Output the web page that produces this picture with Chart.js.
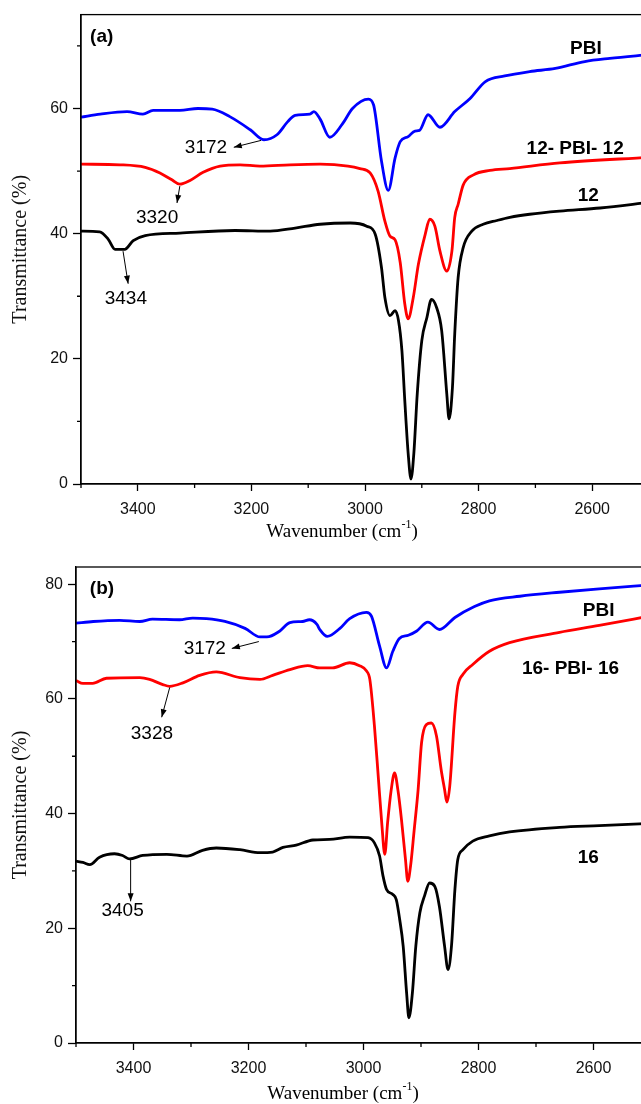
<!DOCTYPE html>
<html>
<head>
<meta charset="utf-8">
<script src="https://cdn.jsdelivr.net/npm/chart.js@4.4.1/dist/chart.umd.min.js"></script>
<style>
  html, body { margin: 0; padding: 0; background: #fff; overflow: hidden; }
  #wrap { width: 641px; height: 1104px; overflow: hidden; }
  canvas { display: block; }
</style>
</head>
<body>
<div id="wrap">
  <canvas id="chartA" width="680" height="550"></canvas>
  <canvas id="chartB" width="680" height="554"></canvas>
</div>
<script>
// ---- panel (a) ----
const wnA_PBI = [3500, 3466, 3419, 3391, 3373, 3326, 3294, 3269, 3238, 3202, 3178, 3155, 3136, 3123, 3097, 3090, 3079, 3062, 3040, 3022, 2994, 2985, 2971, 2959, 2947, 2938, 2924, 2912, 2904, 2889, 2868, 2842, 2815, 2788, 2754, 2710, 2665, 2613, 2569, 2500];
const tA_PBI  = [58.6, 59.1, 59.5, 59.1, 59.7, 59.7, 60.0, 59.9, 58.7, 56.6, 55.0, 55.8, 57.9, 58.9, 59.1, 59.5, 58.3, 55.4, 57.5, 60.0, 61.5, 60.6, 51.6, 46.9, 52.1, 54.7, 55.5, 56.4, 56.5, 59.0, 57.0, 59.5, 61.6, 64.3, 65.2, 65.9, 66.4, 67.5, 68.0, 68.6];

const wnA_12PBI = [3500, 3431, 3387, 3361, 3340, 3326, 3308, 3285, 3255, 3220, 3185, 3132, 3079, 3030, 3009, 2991, 2977, 2965, 2956, 2947, 2938, 2930, 2924, 2915, 2906, 2894, 2886, 2877, 2868, 2856, 2847, 2842, 2836, 2827, 2809, 2780, 2745, 2657, 2500];
const tA_12PBI  = [51.1, 51.0, 50.6, 49.7, 48.6, 47.9, 48.5, 49.8, 50.8, 51.0, 50.8, 51.0, 51.1, 50.8, 50.4, 49.7, 46.8, 42.0, 39.6, 39.0, 35.4, 28.8, 26.4, 29.8, 35.1, 39.9, 42.3, 41.2, 37.2, 34.0, 37.2, 42.6, 44.7, 47.8, 49.4, 50.1, 50.4, 51.3, 52.2];

const wnA_12 = [3500, 3467, 3452, 3440, 3423, 3408, 3387, 3326, 3229, 3167, 3123, 3079, 3026, 2997, 2982, 2971, 2965, 2956, 2947, 2941, 2935, 2930, 2924, 2919, 2914, 2908, 2900, 2891, 2883, 2874, 2865, 2856, 2852, 2846, 2842, 2836, 2827, 2812, 2792, 2768, 2745, 2710, 2657, 2586, 2500];
const tA_12  = [40.4, 40.3, 39.1, 37.5, 37.5, 38.9, 39.7, 40.1, 40.5, 40.4, 40.9, 41.5, 41.7, 41.2, 39.9, 34.6, 29.8, 26.9, 27.7, 26.1, 21.3, 13.4, 4.9, 0.8, 4.9, 14.4, 22.9, 26.6, 29.5, 28.2, 24.5, 14.4, 10.4, 15.5, 24.0, 33.0, 37.8, 40.4, 41.5, 42.1, 42.6, 43.1, 43.6, 44.1, 45.0];

// ---- panel (b) ----
const wnB_PBI = [3500, 3470, 3424, 3389, 3367, 3320, 3297, 3273, 3241, 3206, 3180, 3168, 3146, 3128, 3106, 3094, 3081, 3076, 3063, 3041, 3024, 2995, 2986, 2972, 2960, 2949, 2938, 2922, 2908, 2888, 2868, 2841, 2807, 2781, 2728, 2659, 2590, 2500];
const tB_PBI  = [73.2, 73.5, 73.7, 73.5, 73.9, 73.8, 74.1, 74.0, 73.5, 72.3, 70.8, 70.8, 71.8, 73.3, 73.5, 73.8, 73.0, 72.1, 70.9, 72.3, 74.0, 75.1, 74.4, 69.2, 65.4, 68.3, 70.5, 71.1, 71.8, 73.4, 72.1, 74.2, 76.1, 77.1, 77.9, 78.6, 79.2, 79.9];

const wnB_16PBI = [3500, 3488, 3471, 3447, 3389, 3372, 3349, 3337, 3314, 3285, 3256, 3215, 3180, 3158, 3128, 3097, 3076, 3054, 3024, 3007, 2995, 2989, 2981, 2974, 2968, 2963, 2958, 2952, 2946, 2940, 2934, 2927, 2923, 2918, 2912, 2905, 2899, 2891, 2882, 2873, 2865, 2859, 2855, 2850, 2841, 2836, 2827, 2810, 2781, 2746, 2659, 2590, 2500];
const tB_16PBI  = [63.2, 62.7, 62.7, 63.6, 63.7, 63.4, 62.5, 62.2, 62.8, 64.1, 64.7, 63.7, 63.4, 64.1, 65.1, 65.8, 65.4, 65.4, 66.3, 65.8, 64.9, 63.4, 55.3, 46.0, 38.0, 32.9, 38.5, 44.0, 47.1, 44.0, 39.0, 32.0, 28.2, 31.0, 37.0, 44.2, 52.4, 55.5, 55.8, 53.5, 47.7, 44.2, 42.0, 44.8, 57.6, 62.2, 64.3, 66.0, 68.3, 69.8, 71.6, 72.8, 74.5];

const wnB_16 = [3500, 3488, 3476, 3459, 3433, 3419, 3407, 3384, 3342, 3307, 3280, 3256, 3215, 3180, 3158, 3140, 3117, 3088, 3059, 3024, 2992, 2981, 2972, 2966, 2960, 2949, 2943, 2937, 2931, 2925, 2921, 2915, 2909, 2902, 2894, 2885, 2876, 2868, 2859, 2853, 2847, 2841, 2836, 2827, 2810, 2781, 2746, 2659, 2590, 2500];
const tB_16  = [31.7, 31.5, 31.1, 32.4, 33.0, 32.7, 32.1, 32.7, 32.9, 32.6, 33.6, 34.0, 33.7, 33.2, 33.3, 34.1, 34.5, 35.4, 35.5, 35.9, 35.8, 34.9, 32.6, 29.1, 26.8, 25.9, 25.0, 21.5, 16.9, 8.7, 4.4, 8.7, 16.9, 22.7, 25.6, 27.9, 27.3, 23.8, 16.9, 12.8, 16.9, 26.8, 32.0, 33.7, 35.2, 36.1, 36.8, 37.6, 37.9, 38.3];

// ticks
const xMajor = [3400, 3200, 3000, 2800, 2600];
const xMinor = [3500, 3300, 3100, 2900, 2700, 2500];
const yMajorA = [0, 20, 40, 60];
const yMinorA = [10, 30, 50, 70];
const yMajorB = [0, 20, 40, 60, 80];
const yMinorB = [10, 30, 50, 70];

// labels placed in data units: [text, wavenumber, transmittance, bold, align]
const notesA = [
  ['(a)', 3484, 71.4, true, 'left'],
  ['PBI', 2611, 69.5, true, 'center'],
  ['12- PBI- 12', 2630, 53.6, true, 'center'],
  ['12', 2607, 46.0, true, 'center'],
  ['3172', 3280, 53.8, false, 'center'],
  ['3320', 3366, 42.6, false, 'center'],
  ['3434', 3421, 29.6, false, 'center']
];
const arrowsA = [
  [3183, 54.9, 3231, 53.8],
  [3326, 47.6, 3331, 44.9],
  [3426, 37.2, 3417, 32.0]
];
const notesB = [
  ['(b)', 3476, 79.2, true, 'left'],
  ['PBI', 2591, 75.4, true, 'center'],
  ['16- PBI- 16', 2640, 65.3, true, 'center'],
  ['16', 2609, 32.3, true, 'center'],
  ['3172', 3276, 68.8, false, 'center'],
  ['3328', 3368, 54.0, false, 'center'],
  ['3405', 3419, 23.1, false, 'center']
];
const arrowsB = [
  [3182, 70.0, 3229, 68.8],
  [3337, 62.0, 3351, 56.8],
  [3405, 32.0, 3405, 24.7]
];

const pts = (xs, ys) => xs.map((x, i) => ({ x: x, y: ys[i] }));

const frame = {
  id: 'frame',
  afterDraw(chart, args, opts) {
    const { ctx, chartArea: a } = chart;
    const x = chart.scales.x, y = chart.scales.y;
    ctx.save();
    ctx.strokeStyle = '#000';
    ctx.lineWidth = 1.3;
    ctx.strokeRect(a.left, a.top, a.right - a.left, a.bottom - a.top);
    ctx.beginPath();
    xMinor.forEach(v => {
      const px = x.getPixelForValue(v);
      ctx.moveTo(px, a.bottom); ctx.lineTo(px, a.bottom + 4);
    });
    opts.yMinor.forEach(v => {
      const py = y.getPixelForValue(v);
      ctx.moveTo(a.left, py); ctx.lineTo(a.left - 4, py);
    });
    ctx.stroke();

    ctx.fillStyle = '#000';
    ctx.textBaseline = 'middle';
    opts.notes.forEach(n => {
      ctx.font = (n[3] ? 'bold ' : '') + '19px "Liberation Sans", Arial, sans-serif';
      ctx.textAlign = n[4];
      ctx.fillText(n[0], x.getPixelForValue(n[1]), y.getPixelForValue(n[2]));
    });

    ctx.lineWidth = 1;
    opts.arrows.forEach(r => {
      const x1 = x.getPixelForValue(r[0]), y1 = y.getPixelForValue(r[1]);
      const x2 = x.getPixelForValue(r[2]), y2 = y.getPixelForValue(r[3]);
      const ang = Math.atan2(y2 - y1, x2 - x1);
      ctx.beginPath();
      ctx.moveTo(x1, y1); ctx.lineTo(x2, y2);
      ctx.stroke();
      ctx.beginPath();
      ctx.moveTo(x2, y2);
      ctx.lineTo(x2 - 8 * Math.cos(ang) + 3 * Math.sin(ang), y2 - 8 * Math.sin(ang) - 3 * Math.cos(ang));
      ctx.lineTo(x2 - 8 * Math.cos(ang) - 3 * Math.sin(ang), y2 - 8 * Math.sin(ang) + 3 * Math.cos(ang));
      ctx.closePath();
      ctx.fill();
    });

    // x axis title with superscript
    const main = 'Wavenumber (cm', sup = '-1', end = ')';
    const big = '19px "Liberation Serif", "Times New Roman", serif';
    const small = '12px "Liberation Serif", "Times New Roman", serif';
    ctx.font = big; const w1 = ctx.measureText(main).width, w3 = ctx.measureText(end).width;
    ctx.font = small; const w2 = ctx.measureText(sup).width;
    let tx = opts.titleX - (w1 + w2 + w3) / 2;
    const ty = opts.titleY;
    ctx.textAlign = 'left';
    ctx.font = big; ctx.fillText(main, tx, ty); tx += w1;
    ctx.font = small; ctx.fillText(sup, tx, ty - 7); tx += w2;
    ctx.font = big; ctx.fillText(end, tx, ty);
    ctx.restore();
  }
};

function makeChart(id, sets, yMax, yMajor, yMinor, notes, arrows, box) {
  return new Chart(document.getElementById(id), {
    type: 'line',
    data: {
      datasets: sets.map(s => ({
        data: s.data,
        borderColor: s.color,
        borderWidth: 2.8,
        pointRadius: 0,
        cubicInterpolationMode: 'monotone',
        fill: false
      }))
    },
    options: {
      responsive: false,
      animation: false,
      events: [],
      layout: { padding: { top: box.top, right: box.right, left: 0, bottom: 0 } },
      scales: {
        x: {
          type: 'linear',
          reverse: true,
          min: 2500,
          max: 3500,
          afterBuildTicks: s => { s.ticks = xMajor.map(v => ({ value: v })); },
          afterFit: s => { s.height = box.xh; },
          grid: { drawOnChartArea: false, tickLength: 7, tickColor: '#000', tickWidth: 1.3 },
          border: { display: true, color: '#000', width: 1.3 },
          ticks: {
            color: '#111', padding: 9, maxRotation: 0,
            callback: v => String(v),
            font: { family: '"Liberation Sans", Arial, sans-serif', size: 16 }
          }
        },
        y: {
          min: 0,
          max: yMax,
          afterBuildTicks: s => { s.ticks = yMajor.map(v => ({ value: v })); },
          afterFit: s => { s.width = box.yw; },
          grid: { drawOnChartArea: false, tickLength: 8, tickColor: '#000', tickWidth: 1.3 },
          border: { display: true, color: '#000', width: 1.3 },
          ticks: {
            color: '#111', padding: 5,
            callback: v => String(v),
            font: { family: '"Liberation Sans", Arial, sans-serif', size: 16 }
          },
          title: {
            display: true,
            text: 'Transmittance (%)',
            color: '#111',
            padding: { top: 9, bottom: 0 },
            font: { family: '"Liberation Serif", "Times New Roman", serif', size: 20 }
          }
        }
      },
      plugins: {
        legend: { display: false },
        tooltip: { enabled: false },
        frame: { yMinor: yMinor, notes: notes, arrows: arrows, titleX: box.tx, titleY: box.ty }
      }
    },
    plugins: [frame]
  });
}

makeChart('chartA', [
  { data: pts(wnA_12, tA_12), color: '#000000' },
  { data: pts(wnA_12PBI, tA_12PBI), color: '#ff0000' },
  { data: pts(wnA_PBI, tA_PBI), color: '#0000ff' }
], 75, yMajorA, yMinorA, notesA, arrowsA, { top: 12, right: 31, xh: 66, yw: 81, tx: 342, ty: 532 });

makeChart('chartB', [
  { data: pts(wnB_16, tB_16), color: '#000000' },
  { data: pts(wnB_16PBI, tB_16PBI), color: '#ff0000' },
  { data: pts(wnB_PBI, tB_PBI), color: '#0000ff' }
], 83, yMajorB, yMinorB, notesB, arrowsB, { top: 17, right: 29, xh: 61, yw: 76, tx: 343, ty: 544 });
</script>
</body>
</html>
